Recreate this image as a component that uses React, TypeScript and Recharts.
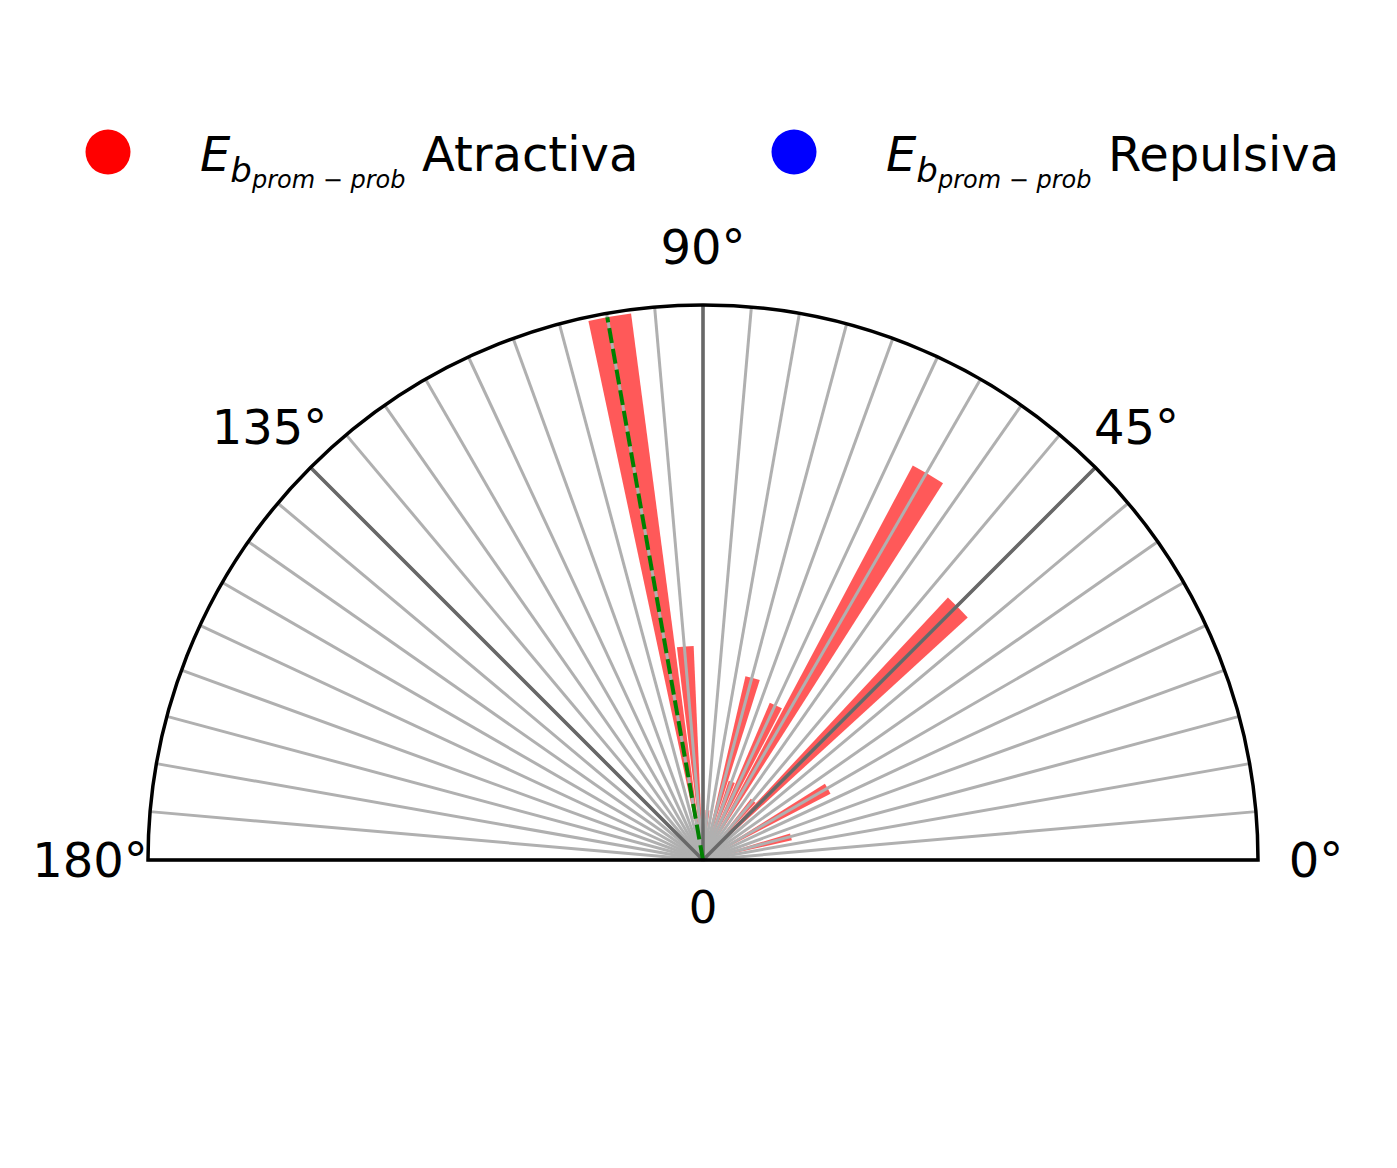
import React from "react";
import {
  PolarAngleAxis,
  PolarGrid,
  PolarRadiusAxis,
  RadialBar,
  RadialBarChart,
  Sector,
} from "recharts";

const W = 1381;
const H = 1100;
const CX = 695;
const CY = 852;
const R = 555;
const FONT = "DejaVu Sans, sans-serif";

// direction of each bar (deg) and its length (fraction of the max)
const barAngles = [15, 30, 45, 50, 60, 65, 70, 75, 85, 95, 100];
const barValues = [0.164, 0.259, 0.647, 0.14, 0.805, 0.308, 0.15, 0.34, 0.09, 0.386, 0.993];

// mean direction (green dashed line)
const meanAngle = 100;
const meanLength = 0.993;

// spokes every 5 deg, labels only at these
const gridAngles = Array.from({ length: 37 }, (_, i) => i * 5);
const labelAngles = [0, 45, 90, 135, 180];
const darkAngles = [45, 90, 135];

const seriesNames = ["Atractiva", "Repulsiva"];
const seriesColors = ["#ff0000", "#0000ff"];

const data = barAngles.map((a, i) => ({
  angle: a,
  value: barValues[i],
  mean: a === meanAngle ? meanLength : 0,
}));

const AngleTick = (props: any) => {
  const { x, y, payload } = props;
  if (!labelAngles.includes(payload.value)) return null;
  return (
    <text x={x} y={y} textAnchor="middle" dominantBaseline="central" fontSize={48} fontFamily={FONT} fill="#000">
      {payload.value}°
    </text>
  );
};

const MeanLine = (props: any) => {
  const { cx, cy, startAngle, endAngle, outerRadius } = props;
  if (!(outerRadius > 0)) return null;
  const mid = ((startAngle + endAngle) / 2) * (Math.PI / 180);
  return (
    <line
      x1={cx}
      y1={cy}
      x2={cx + outerRadius * Math.cos(-mid)}
      y2={cy + outerRadius * Math.sin(-mid)}
      stroke="#008000"
      strokeWidth={4}
      strokeDasharray="15 6"
    />
  );
};

const LegendItem = ({ x, tx, name, color }: { x: number; tx: number; name: string; color: string }) => (
  <g fontFamily={FONT}>
    <circle cx={x} cy={144} r={22.5} fill={color} />
    <text x={x + 92} y={163} fontSize={48} fontStyle="italic">
      E
      <tspan fontSize={34} dy={11}>b</tspan>
      <tspan fontSize={24} dy={6}>prom − prob</tspan>
    </text>
    <text x={tx} y={163} fontSize={48}>
      {name}
    </text>
  </g>
);

const App = () => {
  return (
    <div style={{ position: "relative", width: W, height: H }}>
      <RadialBarChart
        width={W}
        height={H}
        data={data}
        layout="centric"
        cx={CX}
        cy={CY}
        innerRadius={0}
        outerRadius={R}
        startAngle={0}
        endAngle={180}
        barCategoryGap="0%"
        margin={{ top: 0, right: 0, bottom: 0, left: 0 }}
      >
        <PolarAngleAxis
          dataKey="angle"
          type="number"
          domain={[0, 180]}
          ticks={gridAngles}
          tick={<AngleTick />}
          tickLine={false}
          axisLine={false}
          tickSize={58}
        />
        <PolarAngleAxis
          angleAxisId="m"
          dataKey="angle"
          type="number"
          domain={[0, 180]}
          ticks={gridAngles}
          tick={false}
          tickLine={false}
          axisLine={false}
        />
        <PolarRadiusAxis type="number" domain={[0, 1]} tick={false} axisLine={false} />
        <RadialBar
          dataKey="value"
          barSize={5.4}
          fill="#ff0000"
          fillOpacity={0.65}
          isAnimationActive={false}
          zIndex={300}
        />
        <PolarGrid
          gridType="circle"
          polarAngles={gridAngles}
          polarRadius={[]}
          stroke="#b0b0b0"
          strokeWidth={3}
          zIndex={350}
        />
        <PolarGrid
          gridType="circle"
          polarAngles={darkAngles}
          polarRadius={[]}
          stroke="#686868"
          strokeWidth={3.5}
          zIndex={360}
        />
        <RadialBar
          angleAxisId="m"
          dataKey="mean"
          shape={<MeanLine />}
          isAnimationActive={false}
          zIndex={400}
        />
      </RadialBarChart>
      <svg width={W} height={H} style={{ position: "absolute", left: 0, top: 0, pointerEvents: "none" }}>
        <Sector
          cx={CX}
          cy={CY}
          innerRadius={0}
          outerRadius={R}
          startAngle={0}
          endAngle={180}
          fill="none"
          stroke="#000"
          strokeWidth={3.5}
        />
        <text x={CX} y={915} textAnchor="middle" fontSize={45} fontFamily={FONT}>
          0
        </text>
        <LegendItem x={100} tx={414} name={seriesNames[0]} color={seriesColors[0]} />
        <LegendItem x={786} tx={1100} name={seriesNames[1]} color={seriesColors[1]} />
      </svg>
    </div>
  );
};

export default App;
